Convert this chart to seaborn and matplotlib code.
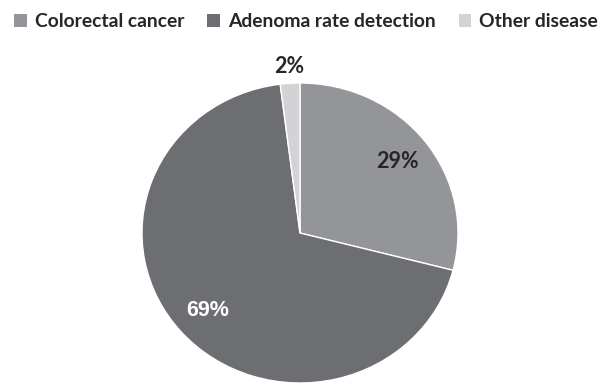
import matplotlib
matplotlib.use("Agg")
import matplotlib.pyplot as plt
import seaborn as sns
import numpy as np
from matplotlib.patches import Patch

categories = ["Colorectal cancer", "Adenoma rate detection", "Other disease"]
values = [29, 69, 2]
labels = ["29%", "69%", "2%"]
colors = ["#939598", "#6d6e71", "#d1d3d4"]
label_colors = ["#262626", "#ffffff", "#262626"]

sns.set_theme(style="white")
plt.rcParams['font.family'] = ['Lato', 'DejaVu Sans']

fig = plt.figure(figsize=(6.06, 3.84), dpi=100)
ax = fig.add_axes([0.2343, 0.0026, 0.5215, 0.78125])
wedges, _ = ax.pie(values, colors=colors, startangle=90, counterclock=False,
                   wedgeprops=dict(linewidth=1, edgecolor="white"))
ax.set_aspect('auto')
ax.set_xlim(-1, 1)
ax.set_ylim(-1, 1)

dists = [0.78, 0.78, 1.11]
families = [['Lato'], ['Liberation Sans'], ['Lato']]
for w, lab, c, d, fam in zip(wedges, labels, label_colors, dists, families):
    ang = np.deg2rad((w.theta1 + w.theta2) / 2)
    ax.text(d * np.cos(ang), d * np.sin(ang), lab, ha="center", va="center",
            fontsize=15.5, fontweight="bold", color=c, family=fam)

handles = [Patch(facecolor=c, edgecolor="none") for c in colors]
leg = fig.legend(handles, categories, loc="center", bbox_to_anchor=(0.505, 0.943), ncol=3,
                 frameon=False, handlelength=0.65, handleheight=0.65,
                 handletextpad=0.4, columnspacing=1.2, prop=dict(weight="bold", size=13.9))
for t in leg.get_texts():
    t.set_color("#262626")

fig.savefig("out.png", dpi=100)
